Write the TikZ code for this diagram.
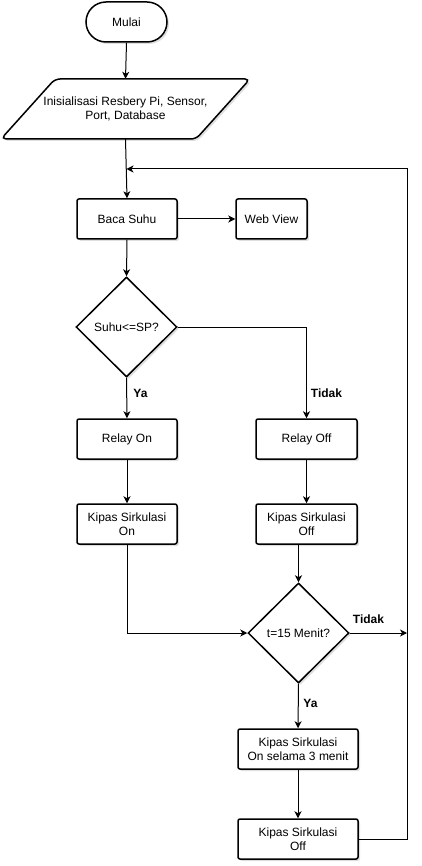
\documentclass[tikz,border=0pt]{standalone}
\usepackage{fontspec}
\setmainfont{Liberation Sans}
\usetikzlibrary{shapes.geometric,arrows.meta,shadows}
\begin{document}
\begin{tikzpicture}[x=1pt,y=-1pt,
  font=\fontsize{12}{14}\selectfont,
  shad/.style={drop shadow={shadow xshift=2pt,shadow yshift=-2pt,opacity=0.25,fill=gray}},
  box/.style={draw,line width=1.5pt,rounded corners=2pt,minimum width=100pt,minimum height=40pt,
    align=center,fill=white,inner sep=1pt,shad},
  dec/.style={draw,diamond,line width=1.5pt,minimum width=101pt,minimum height=100pt,inner sep=0pt,
    fill=white,align=center,shad},
  term/.style={draw,line width=1.5pt,rounded corners=20pt,minimum width=81pt,minimum height=40pt,
    fill=white,shad},
  conn/.style={line width=1pt,-{Stealth[length=7pt,width=7pt,inset=2pt]}},
  plain/.style={line width=1pt},
  lbl/.style={font=\fontsize{12}{14}\selectfont\bfseries,inner sep=0pt}
]
\useasboundingbox (0,0) rectangle (422,866);
% connectors first
\coordinate (merge) at (126.5,169);
\coordinate (loopc) at (407,169);
\coordinate (rightend) at (407,633);

% nodes
\node[term] (start) at (126.5,22) {Mulai};
\node[minimum width=195pt,minimum height=60pt,inner sep=0pt,align=center] (init) at (125.5,109) {};
\node[box] (baca) at (127,219) {Baca Suhu};
\node[box,minimum width=71pt] (web) at (271.5,219) {Web View};
\node[dec] (d1) at (126.5,327) {Suhu<=SP?};
\node[box] (ron) at (127,439) {Relay On};
\node[box,minimum width=101pt] (roff) at (306.5,439) {Relay Off};
\node[box] (kon) at (127,524) {Kipas Sirkulasi\\On};
\node[box,minimum width=101pt] (koff) at (306.5,524) {Kipas Sirkulasi\\Off};
\node[dec] (d2) at (298.5,633) {t=15 Menit?};
\node[box,minimum width=120pt] (k3) at (298,749) {Kipas Sirkulasi\\On selama 3 menit};
\node[box,minimum width=120pt] (kend) at (298,839) {Kipas Sirkulasi\\Off};

% parallelogram
\draw[line width=1.5pt,rounded corners=5pt,fill=white,shad]
  (1,139) -- (55,79) -- (250,79) -- (196,139) -- cycle;
\node[align=center,inner sep=0pt] (inittext) at (init.center) {Inisialisasi Resbery Pi, Sensor,\\Port, Database};

% connectors
\draw[conn] (start.south) -- (init.north);
\draw[conn] (init.south) -- (baca.north);
\draw[conn] (baca.east) -- (web.west);
\draw[conn] (baca.south) -- (d1.north);
\draw[conn] (d1.south) -- (ron.north);
\draw[conn] (d1.east) -| (roff.north);
\draw[conn] (ron.south) -- (kon.north);
\draw[conn] (roff.south) -- (koff.north);
\draw[conn] (kon.south) |- (d2.west);
\draw[conn] (koff.south -| d2.north) -- (d2.north);
\draw[conn] (d2.south) -- (k3.north);
\draw[conn] (d2.east) -- (rightend);
\draw[conn] (k3.south) -- (kend.north);
\draw[conn] (kend.east) -| (loopc) -- (merge);

% labels
\node[lbl] (ya1) at (140.5,393) {Ya};
\node[lbl] (tidak1) at (326.5,393) {Tidak};
\node[lbl] (tidak2) at (368.5,619) {Tidak};
\node[lbl] (ya2) at (310.5,703) {Ya};
\end{tikzpicture}
\end{document}
